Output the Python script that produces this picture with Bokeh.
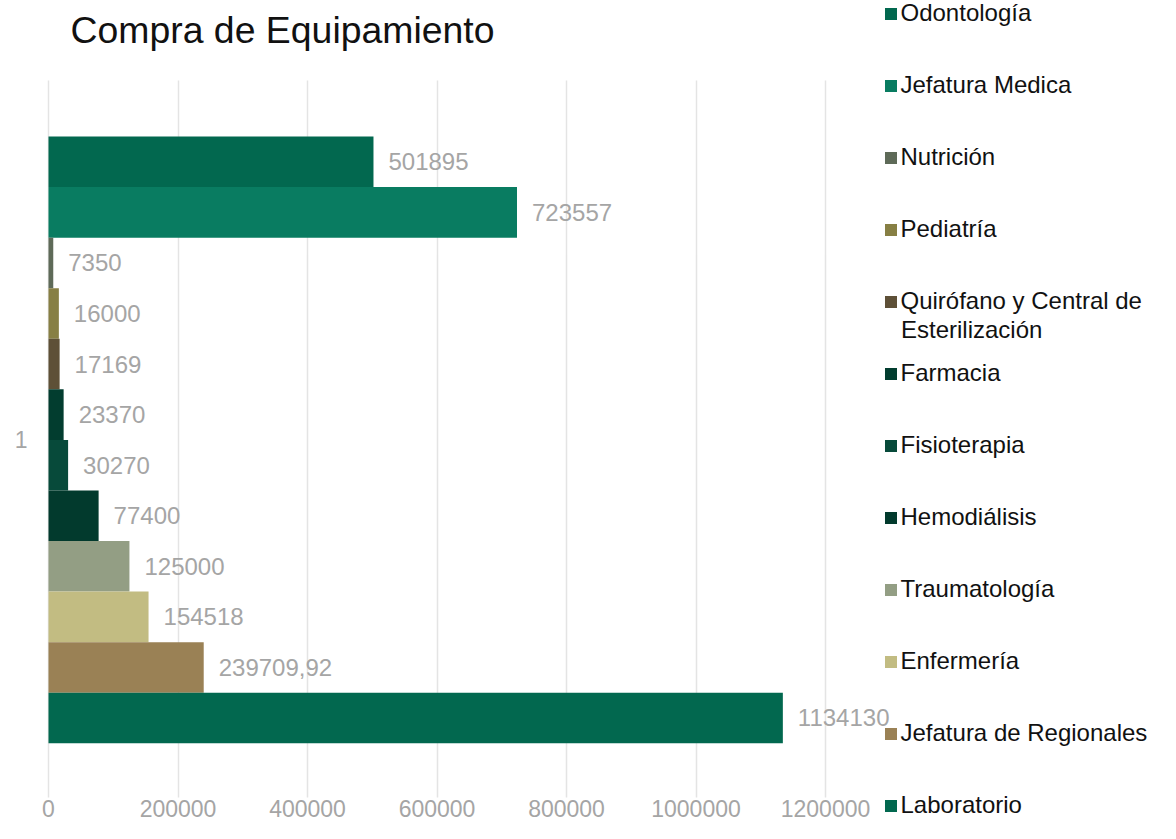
from bokeh.plotting import figure
from bokeh.models import (ColumnDataSource, Range1d, FixedTicker, BasicTickFormatter,
                          LabelSet, Label, Legend, LegendItem)
from bokeh.core.properties import value
from bokeh.embed import file_html
from bokeh.resources import INLINE

# ---- data (top to bottom as drawn) ----
areas = ["Odontología", "Jefatura Medica", "Nutrición", "Pediatría",
         "Quirófano y Central de Esterilización", "Farmacia", "Fisioterapia",
         "Hemodiálisis", "Traumatología", "Enfermería",
         "Jefatura de Regionales", "Laboratorio"]
amounts = [501895, 723557, 7350, 16000, 17169, 23370, 30270, 77400,
           125000, 154518, 239709.92, 1134130]
colors = ["#02684F", "#097C61", "#5E6A58", "#877F44", "#5E5037", "#023D2F",
          "#074A3A", "#023A2D", "#939E84", "#C2BC82", "#9A8155", "#02684F"]
category = "1"
x_ticks = [0, 200000, 400000, 600000, 800000, 1000000, 1200000]
title_text = "Compra de Equipamiento"

FONT = "Liberation Sans"
GRAY = "#A5A5A5"
W, H = 1160, 823

# ---- layout (pixels) ----
PX_LEFT, PX_RIGHT = 48, 825          # plot area x extent (0 .. 1200000)
PX_TOP, PX_BOTTOM = 80, 797          # plot area y extent (grid lines)
PX_AXIS = 793                        # where the x tick labels hang from
PX_BAR = 50.56                       # height of one bar
PX_MID = 439.4                       # centre of the bar cluster

n = len(areas)
step = 1.0 / n
ys = [1 + ((n - 1) / 2 - i) * step for i in range(n)]

x_per_px = (x_ticks[-1] - x_ticks[0]) / (PX_RIGHT - PX_LEFT)
x_start = x_ticks[0] - PX_LEFT * x_per_px
x_end = x_ticks[0] + (W - PX_LEFT) * x_per_px
y_per_px = step / PX_BAR
y_start = 1 - (H - PX_MID) * y_per_px
y_end = 1 + PX_MID * y_per_px
y_plot_bottom = 1 - (PX_BOTTOM - PX_MID) * y_per_px
y_plot_top = 1 + (PX_MID - PX_TOP) * y_per_px
y_axis_at = 1 - (PX_AXIS - PX_MID) * y_per_px


def fmt(v):
    return str(int(v)) if float(v).is_integer() else f"{v}".replace(".", ",")


src = ColumnDataSource(dict(y=ys, v=amounts, c=colors, name=areas,
                            lab=[fmt(v) for v in amounts]))

p = figure(width=W, height=H, output_backend="svg", toolbar_location=None,
           x_range=Range1d(x_start, x_end), y_range=Range1d(y_start, y_end),
           min_border=0)
p.title.visible = False
p.outline_line_color = None
p.background_fill_color = "white"
p.border_fill_color = "white"

r = p.hbar(y="y", right="v", left=0, height=step, fill_color="c",
           line_color=None, source=src)

# grid
p.ygrid.visible = False
p.xgrid.ticker = FixedTicker(ticks=x_ticks)
p.xgrid.bounds = (x_ticks[0], x_ticks[-1])
p.xgrid.cross_bounds = (y_plot_bottom, y_plot_top)
p.xgrid.grid_line_color = "#E4E4E4"
p.xgrid.grid_line_width = 1.5

# axes drawn at fixed positions inside the canvas
p.xaxis.ticker = FixedTicker(ticks=x_ticks)
p.xaxis.formatter = BasicTickFormatter(use_scientific=False)
p.xaxis.fixed_location = y_axis_at
p.yaxis.ticker = FixedTicker(ticks=[1])
p.yaxis.fixed_location = x_ticks[0]
for ax in (p.xaxis[0], p.yaxis[0]):
    ax.axis_line_color = None
    ax.major_tick_line_color = None
    ax.minor_tick_line_color = None
    ax.major_label_text_font = FONT
    ax.major_label_text_font_size = "23px"
    ax.major_label_text_color = GRAY
p.xaxis.major_label_standoff = 0
p.yaxis.major_label_standoff = 15
p.yaxis.major_label_overrides = {1: category}

# value labels
labels = LabelSet(x="v", y="y", text="lab", source=src, x_offset=15,
                  text_font=value(FONT), text_font_size=value("24px"),
                  text_color=GRAY, text_baseline="middle", text_align="left")
p.add_layout(labels)

# legend
items = []
for i, nm in enumerate(areas):
    lbl = "Quirófano y Central de" if nm.startswith("Quirófano") else nm
    items.append(LegendItem(label=lbl, renderers=[r], index=i))
LEG_H = n * 30 + (n - 1) * 42
legend = Legend(items=items, location=(882.5, H - (-2) - LEG_H),
                orientation="vertical",
                glyph_width=15, glyph_height=15, label_height=30, spacing=42,
                label_standoff=3, padding=0, margin=0,
                label_text_font=FONT, label_text_font_size="24px",
                label_text_color="#111111", label_text_baseline="middle",
                border_line_color=None, background_fill_alpha=0)
p.add_layout(legend)

p.add_layout(Label(x=900.5, y=H - 329, x_units="screen", y_units="screen",
                   text="Esterilización", text_font=FONT, text_font_size="24px",
                   text_color="#111111", text_baseline="middle"))

# title
p.add_layout(Label(x=70, y=H - 29, x_units="screen", y_units="screen",
                   text=title_text, text_font=FONT,
                   text_font_size="37.4px", text_color="#111111",
                   text_baseline="alphabetic"))

open("out.html", "w").write(file_html(p, INLINE))
